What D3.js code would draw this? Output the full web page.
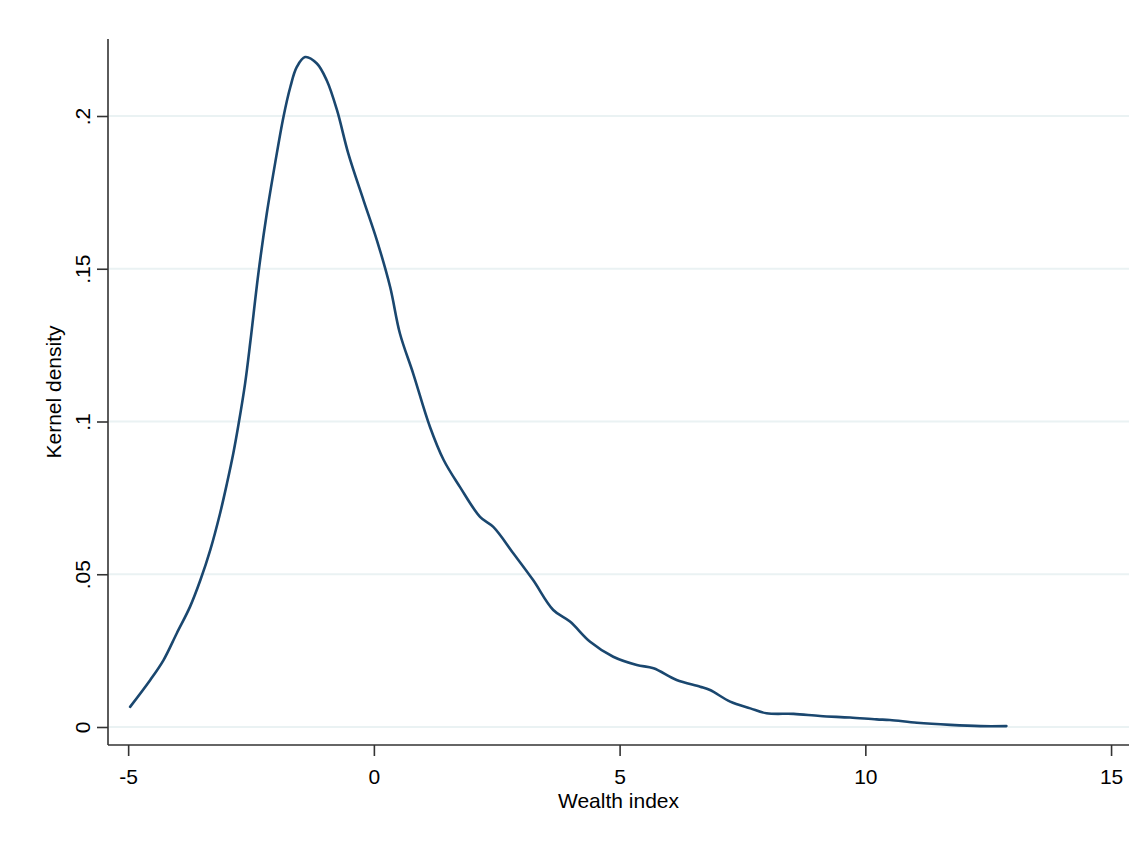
<!DOCTYPE html>
<html lang="en">
<head>
    <meta charset="utf-8">
    <title>Kernel density of wealth index</title>
    <script type="text/javascript" src="https://cdn.jsdelivr.net/npm/d3@7"></script>
    <style type="text/css">
        body { margin: 0; background: #fff; }
        svg { display: block; font-family: "Liberation Sans", Arial, sans-serif; }
    </style>
</head>
<body>
    <script type="text/javascript">
        // Curve points
        var wealth = [-4.96, -4.55, -4.28, -4.01, -3.74, -3.53, -3.33, -3.13, -2.99, -2.86,
            -2.76, -2.62, -2.51, -2.35, -2.18, -2.01, -1.84, -1.70, -1.57, -1.40,
            -1.16, -0.96, -0.75, -0.52, -0.21, 0.06, 0.33, 0.53, 0.80, 1.14,
            1.42, 1.75, 2.16, 2.43, 2.84, 3.24, 3.65, 3.99, 4.40, 4.87,
            5.35, 5.69, 6.16, 6.64, 6.84, 7.25, 7.66, 7.99, 8.54, 9.08,
            9.69, 10.23, 10.50, 11.05, 11.73, 12.34, 12.87];
        var density = [0.0066, 0.0154, 0.0219, 0.0307, 0.0394, 0.0481, 0.0579, 0.0699, 0.0797, 0.0896,
            0.0985, 0.1125, 0.1266, 0.1485, 0.1680, 0.1845, 0.1997, 0.2095, 0.2160, 0.2193,
            0.2172, 0.2117, 0.2019, 0.1877, 0.1724, 0.1594, 0.1441, 0.1288, 0.1157, 0.0983,
            0.0874, 0.0786, 0.0688, 0.0655, 0.0568, 0.0481, 0.0383, 0.0345, 0.0279, 0.0230,
            0.0203, 0.0192, 0.0154, 0.0132, 0.0121, 0.0083, 0.0061, 0.0045, 0.0043, 0.0036,
            0.0031, 0.0025, 0.0023, 0.0014, 0.0007, 0.0003, 0.0003];

        var xTicks = [-5, 0, 5, 10, 15];
        var yTicks = [0, 0.05, 0.1, 0.15, 0.2];
        var yTickLabels = ["0", ".05", ".1", ".15", ".2"];

        var w = 1146;
        var h = 844;
        // plot frame (note: "top" is reserved on window, so use plot* names)
        var plotLeft = 108, plotRight = 1129, plotTop = 39, plotBottom = 745;
        var fontSize = "21px";

        var x = d3.scaleLinear().domain([-5.41, 15.365]).range([plotLeft, plotRight]);
        var y = d3.scaleLinear().domain([0, 0.2]).range([727, 116]);

        var svg = d3.select("body")
            .append("svg")
            .attr("width", w)
            .attr("height", h);

        // gridlines
        svg.selectAll("line.grid")
            .data(yTicks)
            .enter()
            .append("line")
            .attr("class", "grid")
            .attr("x1", plotLeft + 1)
            .attr("x2", plotRight)
            .attr("y1", function(d) { return y(d); })
            .attr("y2", function(d) { return y(d); })
            .style("stroke", "#eaf2f3")
            .style("stroke-width", 2);

        // y axis
        var yAxis = d3.axisLeft(y)
            .tickValues(yTicks)
            .tickSize(11)
            .tickFormat(function(d, i) { return yTickLabels[i]; });

        var gy = svg.append("g")
            .attr("transform", "translate(" + plotLeft + ",0)")
            .call(yAxis);
        gy.select(".domain").remove();
        gy.append("line")
            .attr("x1", 0).attr("x2", 0)
            .attr("y1", plotTop).attr("y2", plotBottom)
            .style("stroke", "#333").style("stroke-width", 1.6);
        gy.selectAll(".tick line").style("stroke", "#333").style("stroke-width", 1.6);
        gy.selectAll(".tick text")
            .attr("transform", "rotate(-90)")
            .attr("x", 0)
            .attr("y", -18)
            .attr("dy", 0)
            .style("text-anchor", "middle")
            .style("font-size", fontSize)
            .style("font-family", "Liberation Sans, Arial, sans-serif")
            .style("fill", "#000");

        // x axis
        var xAxis = d3.axisBottom(x)
            .tickValues(xTicks)
            .tickSize(11)
            .tickFormat(function(d) { return String(d); });

        var gx = svg.append("g")
            .attr("transform", "translate(0," + plotBottom + ")")
            .call(xAxis);
        gx.select(".domain").remove();
        gx.append("line")
            .attr("x1", plotLeft).attr("x2", plotRight)
            .attr("y1", 0).attr("y2", 0)
            .style("stroke", "#333").style("stroke-width", 1.6);
        gx.selectAll(".tick line").style("stroke", "#333").style("stroke-width", 1.6);
        gx.selectAll(".tick text")
            .attr("y", 39)
            .attr("dy", 0)
            .style("font-size", fontSize)
            .style("font-family", "Liberation Sans, Arial, sans-serif")
            .style("fill", "#000");

        // axis titles
        svg.append("text")
            .attr("x", (plotLeft + plotRight) / 2)
            .attr("y", 808)
            .attr("text-anchor", "middle")
            .style("font-size", fontSize)
            .text("Wealth index");

        svg.append("text")
            .attr("transform", "translate(61," + ((plotTop + plotBottom) / 2) + ") rotate(-90)")
            .attr("text-anchor", "middle")
            .style("font-size", fontSize)
            .text("Kernel density");

        // density curve
        var line = d3.line()
            .x(function(d, i) { return x(wealth[i]); })
            .y(function(d) { return y(d); })
            .curve(d3.curveCatmullRom);

        svg.append("path")
            .datum(density)
            .attr("d", line)
            .style("fill", "none")
            .style("stroke", "#1a476f")
            .style("stroke-width", 2.6)
            .style("stroke-linejoin", "round")
            .style("stroke-linecap", "round");
    </script>
</body>
</html>
